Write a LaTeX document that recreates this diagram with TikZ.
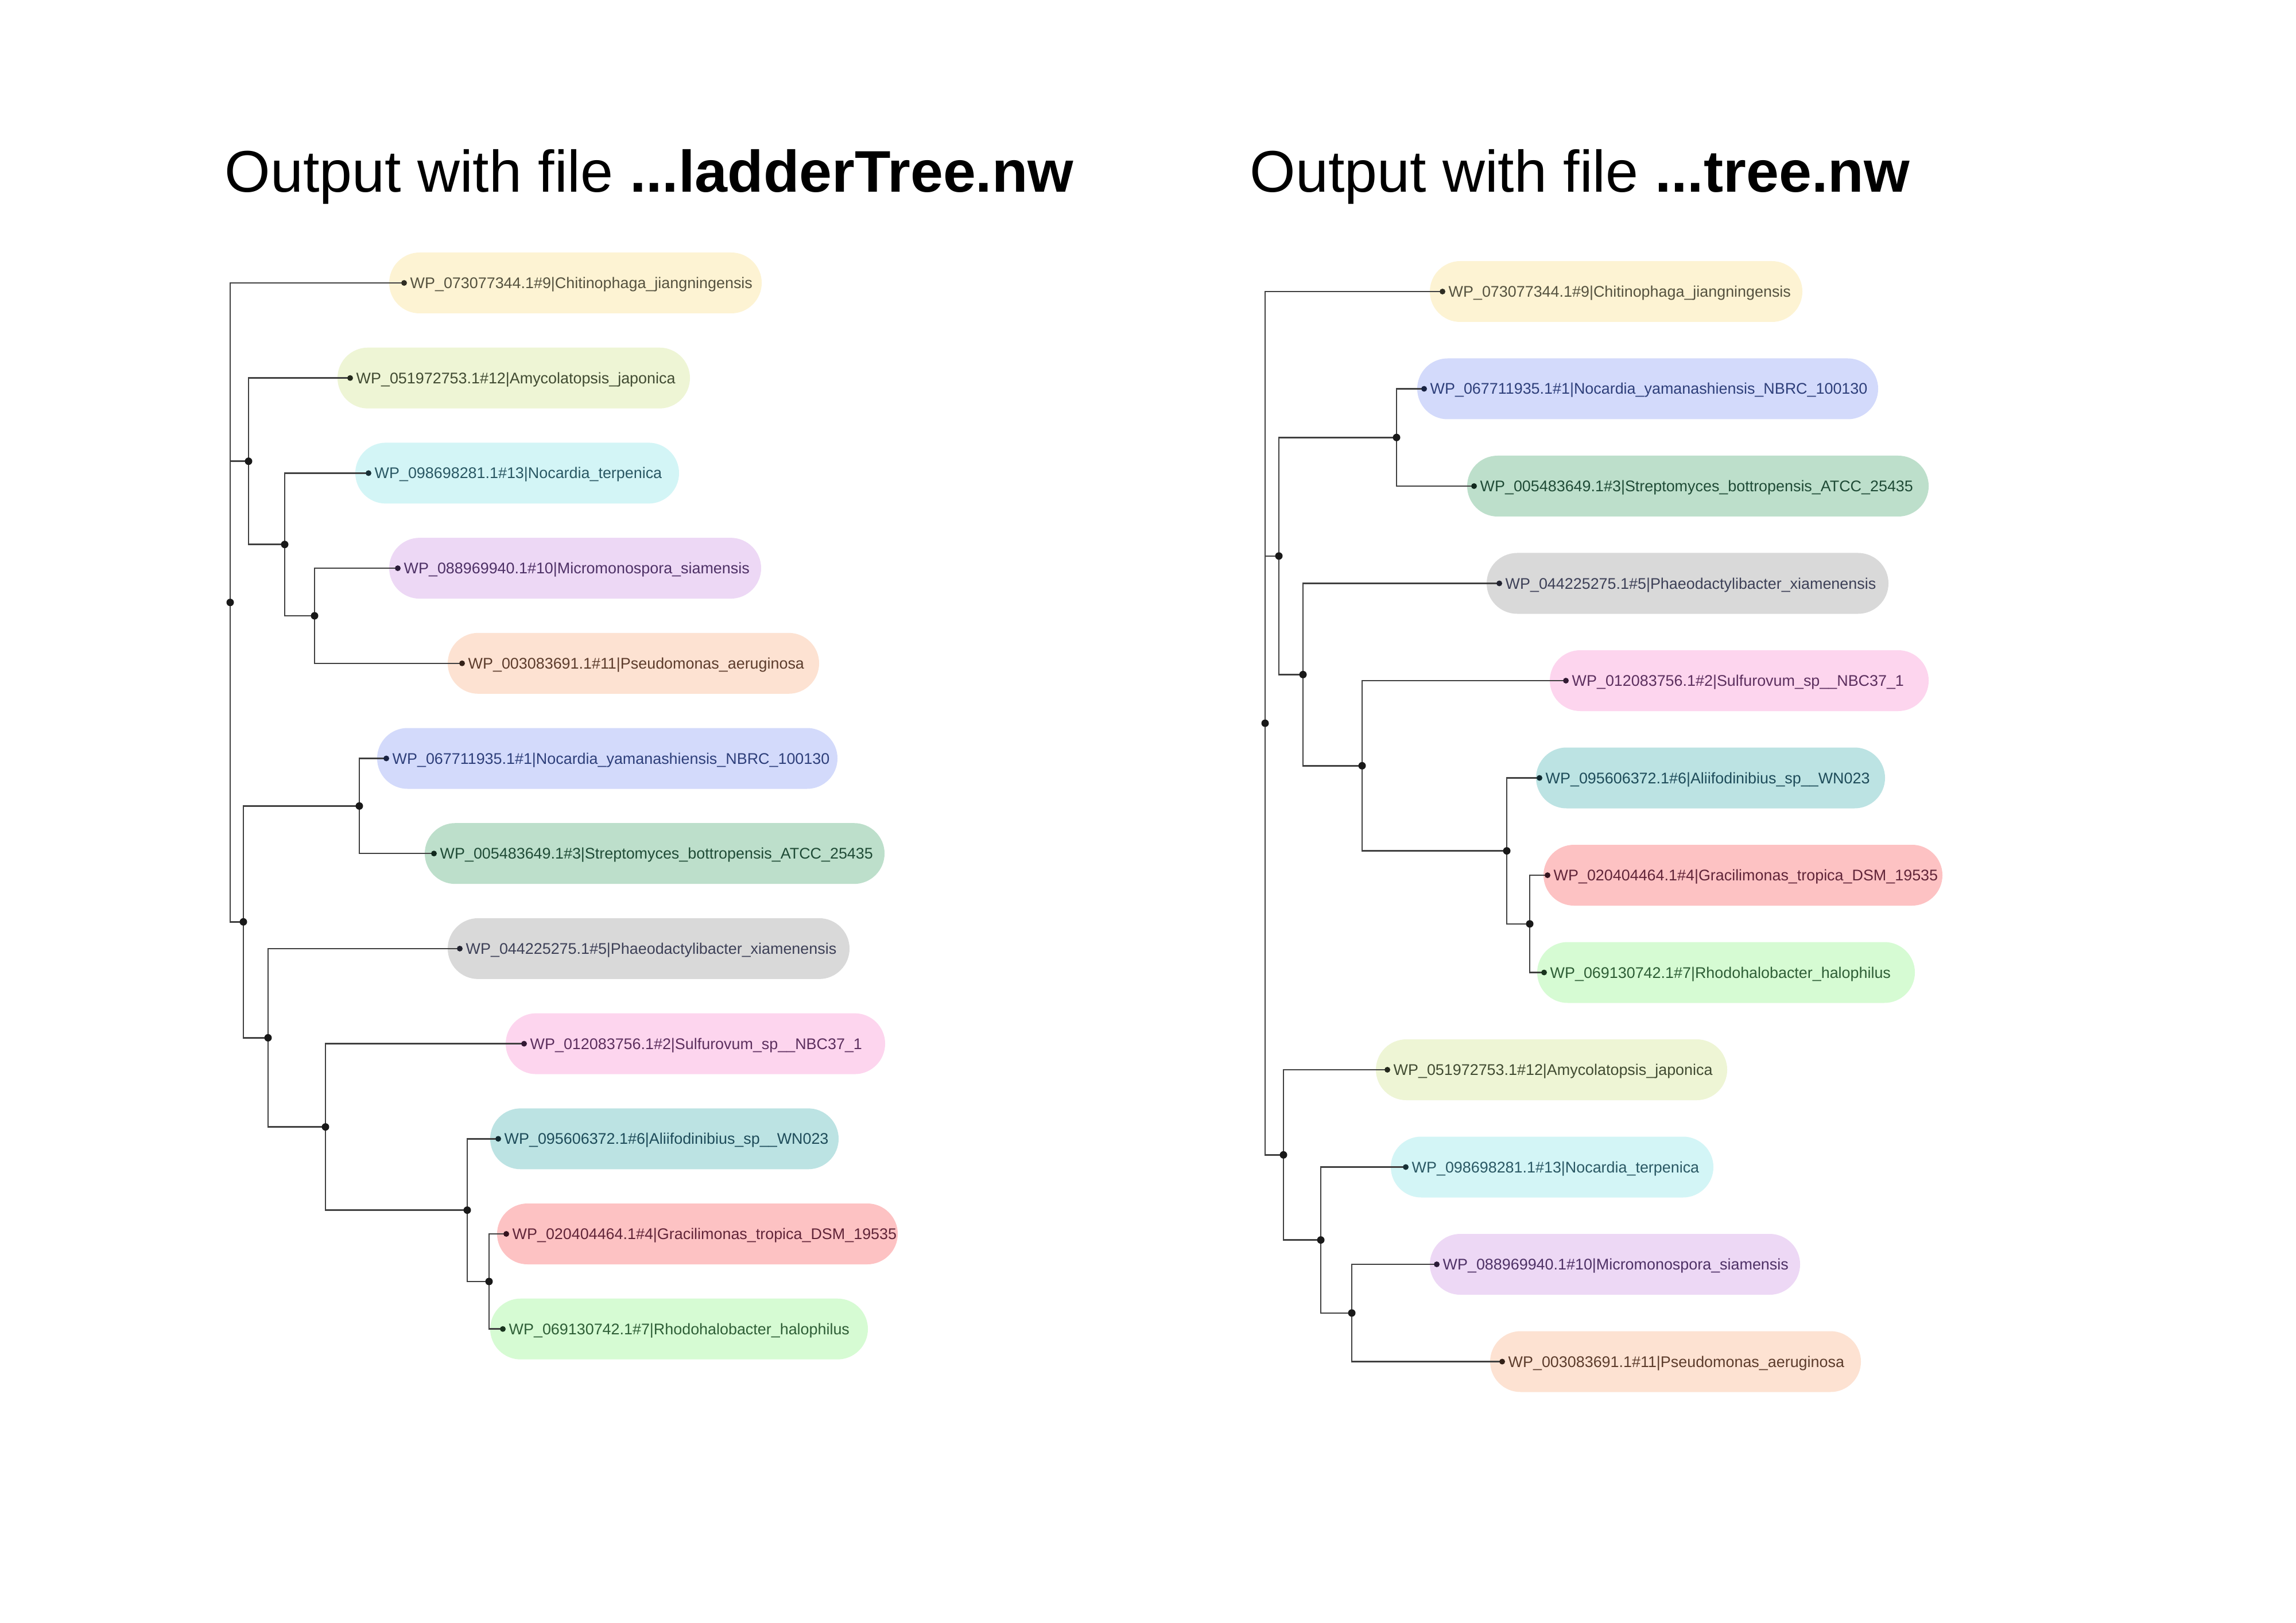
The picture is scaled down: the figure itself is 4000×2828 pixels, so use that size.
\documentclass[tikz,border=0pt]{standalone}
\usepackage{fontspec}
\setmainfont{Liberation Sans}

% label highlight fills and matching text colours
\definecolor{chitF}{HTML}{FDF3D3}\definecolor{chitT}{HTML}{55523F}
\definecolor{amyF}{HTML}{EEF5D5}\definecolor{amyT}{HTML}{414B32}
\definecolor{terF}{HTML}{D3F5F6}\definecolor{terT}{HTML}{2A5864}
\definecolor{micF}{HTML}{EDD8F5}\definecolor{micT}{HTML}{4E3166}
\definecolor{pseF}{HTML}{FDE2D2}\definecolor{pseT}{HTML}{5C3C2C}
\definecolor{yamF}{HTML}{D3DAFB}\definecolor{yamT}{HTML}{2E3F7A}
\definecolor{strF}{HTML}{BDDFCB}\definecolor{strT}{HTML}{1F4B36}
\definecolor{phaF}{HTML}{D9D9D9}\definecolor{phaT}{HTML}{3D4057}
\definecolor{sulF}{HTML}{FDD5EE}\definecolor{sulT}{HTML}{5C2F5E}
\definecolor{aliF}{HTML}{BCE3E3}\definecolor{aliT}{HTML}{1E4C5A}
\definecolor{graF}{HTML}{FDC2C3}\definecolor{graT}{HTML}{612539}
\definecolor{rhoF}{HTML}{D6FBD3}\definecolor{rhoT}{HTML}{2E5E36}

\pgfdeclarelayer{paper}
\pgfdeclarelayer{pills}
\pgfdeclarelayer{edges}
\pgfsetlayers{paper,pills,edges,main}

\tikzset{
  leafdot/.style={circle, inner sep=0pt, minimum size=0.1cm},
  nodedot/.style={circle, fill=black!90, inner sep=0pt, minimum size=0.13cm},
  leaflabel/.style={inner sep=0pt, anchor=base west, font=\fontsize{7.65pt}{9pt}\selectfont},
  branch/.style={draw=black!75, line width=0.72pt},
  titletext/.style={inner sep=0pt, anchor=base west, font=\fontsize{29.1pt}{34pt}\selectfont},
}

% #1 name, #2 y, #3 dot x, #4 pill left, #5 pill right, #6 fill, #7 text colour, #8 label
\newcommand\treeleaf[8]{%
  \begin{pgfonlayer}{pills}
    \fill[#6, rounded corners=0.53cm] (#4,{#2-53}) rectangle (#5,{#2+53});
  \end{pgfonlayer}
  \node[leafdot, fill=#7!55!black] (#1) at (#3,#2) {};
  \node[leaflabel, text=#7] (#1t) at ({#3+10},{#2+9.5}) {#8};
}

\begin{document}
\begin{tikzpicture}[x=0.01cm, y=-0.01cm]
\begin{pgfonlayer}{paper}
  \fill[white] (0,0) rectangle (4000,2828);
\end{pgfonlayer}
\useasboundingbox (0,0) rectangle (4000,2828);

% headings
\node[titletext] (title1) at (391,335) {Output with file \textbf{...ladderTree.nw}};
\node[titletext] (title2) at (2177,335) {Output with file \textbf{...tree.nw}};

% ---------- ladderised tree ----------
\treeleaf{L1}{493}{704}{678}{1327}{chitF}{chitT}{WP\_073077344.1\#9|Chitinophaga\_jiangningensis}
\treeleaf{L2}{658.7}{610}{588}{1202}{amyF}{amyT}{WP\_051972753.1\#12|Amycolatopsis\_japonica}
\treeleaf{L3}{824.4}{642}{619}{1183}{terF}{terT}{WP\_098698281.1\#13|Nocardia\_terpenica}
\treeleaf{L4}{990.1}{693}{678}{1326}{micF}{micT}{WP\_088969940.1\#10|Micromonospora\_siamensis}
\treeleaf{L5}{1155.8}{805}{780}{1427}{pseF}{pseT}{WP\_003083691.1\#11|Pseudomonas\_aeruginosa}
\treeleaf{L6}{1321.5}{673}{657}{1459}{yamF}{yamT}{WP\_067711935.1\#1|Nocardia\_yamanashiensis\_NBRC\_100130}
\treeleaf{L7}{1487.2}{756}{740}{1541}{strF}{strT}{WP\_005483649.1\#3|Streptomyces\_bottropensis\_ATCC\_25435}
\treeleaf{L8}{1652.9}{801}{780}{1480}{phaF}{phaT}{WP\_044225275.1\#5|Phaeodactylibacter\_xiamenensis}
\treeleaf{L9}{1818.6}{913}{881}{1542}{sulF}{sulT}{WP\_012083756.1\#2|Sulfurovum\_sp\_\_NBC37\_1}
\treeleaf{L10}{1984.3}{868}{854}{1461}{aliF}{aliT}{WP\_095606372.1\#6|Aliifodinibius\_sp\_\_WN023}
\treeleaf{L11}{2150}{882}{866}{1564}{graF}{graT}{WP\_020404464.1\#4|Gracilimonas\_tropica\_DSM\_19535}
\treeleaf{L12}{2315.7}{876}{854}{1512}{rhoF}{rhoT}{WP\_069130742.1\#7|Rhodohalobacter\_halophilus}

\node[nodedot] (lr) at (401,1049.7) {};
\node[nodedot] (la) at (433,803.7) {};
\node[nodedot] (lc) at (496,948.7) {};
\node[nodedot] (ld) at (548,1073) {};
\node[nodedot] (lb) at (424,1606.3) {};
\node[nodedot] (le) at (626,1404.4) {};
\node[nodedot] (lf) at (467,1808.3) {};
\node[nodedot] (lg) at (567,1963.6) {};
\node[nodedot] (lh) at (814,2108.6) {};
\node[nodedot] (li) at (852,2232.9) {};

\begin{pgfonlayer}{edges}
  \draw[branch] (lr.center) |- (L1.center);
  \draw[branch] (lr.center) |- (la.center);
  \draw[branch] (lr.center) |- (lb.center);
  \draw[branch] (la.center) |- (L2.center);
  \draw[branch] (la.center) |- (lc.center);
  \draw[branch] (lc.center) |- (L3.center);
  \draw[branch] (lc.center) |- (ld.center);
  \draw[branch] (ld.center) |- (L4.center);
  \draw[branch] (ld.center) |- (L5.center);
  \draw[branch] (lb.center) |- (le.center);
  \draw[branch] (lb.center) |- (lf.center);
  \draw[branch] (le.center) |- (L6.center);
  \draw[branch] (le.center) |- (L7.center);
  \draw[branch] (lf.center) |- (L8.center);
  \draw[branch] (lf.center) |- (lg.center);
  \draw[branch] (lg.center) |- (L9.center);
  \draw[branch] (lg.center) |- (lh.center);
  \draw[branch] (lh.center) |- (L10.center);
  \draw[branch] (lh.center) |- (li.center);
  \draw[branch] (li.center) |- (L11.center);
  \draw[branch] (li.center) |- (L12.center);
\end{pgfonlayer}

% ---------- original tree ----------
\treeleaf{R1}{508}{2513}{2491}{3140}{chitF}{chitT}{WP\_073077344.1\#9|Chitinophaga\_jiangningensis}
\treeleaf{R2}{677.5}{2481}{2469}{3272}{yamF}{yamT}{WP\_067711935.1\#1|Nocardia\_yamanashiensis\_NBRC\_100130}
\treeleaf{R3}{847}{2568}{2556}{3360}{strF}{strT}{WP\_005483649.1\#3|Streptomyces\_bottropensis\_ATCC\_25435}
\treeleaf{R4}{1016.5}{2612}{2590}{3290}{phaF}{phaT}{WP\_044225275.1\#5|Phaeodactylibacter\_xiamenensis}
\treeleaf{R5}{1186}{2728}{2700}{3360}{sulF}{sulT}{WP\_012083756.1\#2|Sulfurovum\_sp\_\_NBC37\_1}
\treeleaf{R6}{1355.5}{2682}{2676}{3284}{aliF}{aliT}{WP\_095606372.1\#6|Aliifodinibius\_sp\_\_WN023}
\treeleaf{R7}{1525}{2696}{2689}{3384}{graF}{graT}{WP\_020404464.1\#4|Gracilimonas\_tropica\_DSM\_19535}
\treeleaf{R8}{1694.5}{2690}{2678}{3336}{rhoF}{rhoT}{WP\_069130742.1\#7|Rhodohalobacter\_halophilus}
\treeleaf{R9}{1864}{2417}{2397}{3009}{amyF}{amyT}{WP\_051972753.1\#12|Amycolatopsis\_japonica}
\treeleaf{R10}{2033.5}{2449}{2423}{2985}{terF}{terT}{WP\_098698281.1\#13|Nocardia\_terpenica}
\treeleaf{R11}{2203}{2503}{2491}{3136}{micF}{micT}{WP\_088969940.1\#10|Micromonospora\_siamensis}
\treeleaf{R12}{2372.5}{2617}{2596}{3242}{pseF}{pseT}{WP\_003083691.1\#11|Pseudomonas\_aeruginosa}

\node[nodedot] (rr) at (2204,1260.2) {};
\node[nodedot] (ra) at (2433,762.3) {};
\node[nodedot] (rb) at (2228,968.8) {};
\node[nodedot] (rd) at (2270,1175.4) {};
\node[nodedot] (re) at (2373,1334.3) {};
\node[nodedot] (rf) at (2625,1482.6) {};
\node[nodedot] (rg) at (2665,1609.8) {};
\node[nodedot] (rh) at (2236,2012.3) {};
\node[nodedot] (ri) at (2301,2160.6) {};
\node[nodedot] (rj) at (2355,2287.8) {};

\begin{pgfonlayer}{edges}
  \draw[branch] (rr.center) |- (R1.center);
  \draw[branch] (rr.center) |- (rb.center);
  \draw[branch] (rr.center) |- (rh.center);
  \draw[branch] (rb.center) |- (ra.center);
  \draw[branch] (rb.center) |- (rd.center);
  \draw[branch] (ra.center) |- (R2.center);
  \draw[branch] (ra.center) |- (R3.center);
  \draw[branch] (rd.center) |- (R4.center);
  \draw[branch] (rd.center) |- (re.center);
  \draw[branch] (re.center) |- (R5.center);
  \draw[branch] (re.center) |- (rf.center);
  \draw[branch] (rf.center) |- (R6.center);
  \draw[branch] (rf.center) |- (rg.center);
  \draw[branch] (rg.center) |- (R7.center);
  \draw[branch] (rg.center) |- (R8.center);
  \draw[branch] (rh.center) |- (R9.center);
  \draw[branch] (rh.center) |- (ri.center);
  \draw[branch] (ri.center) |- (R10.center);
  \draw[branch] (ri.center) |- (rj.center);
  \draw[branch] (rj.center) |- (R11.center);
  \draw[branch] (rj.center) |- (R12.center);
\end{pgfonlayer}
\end{tikzpicture}
\end{document}
